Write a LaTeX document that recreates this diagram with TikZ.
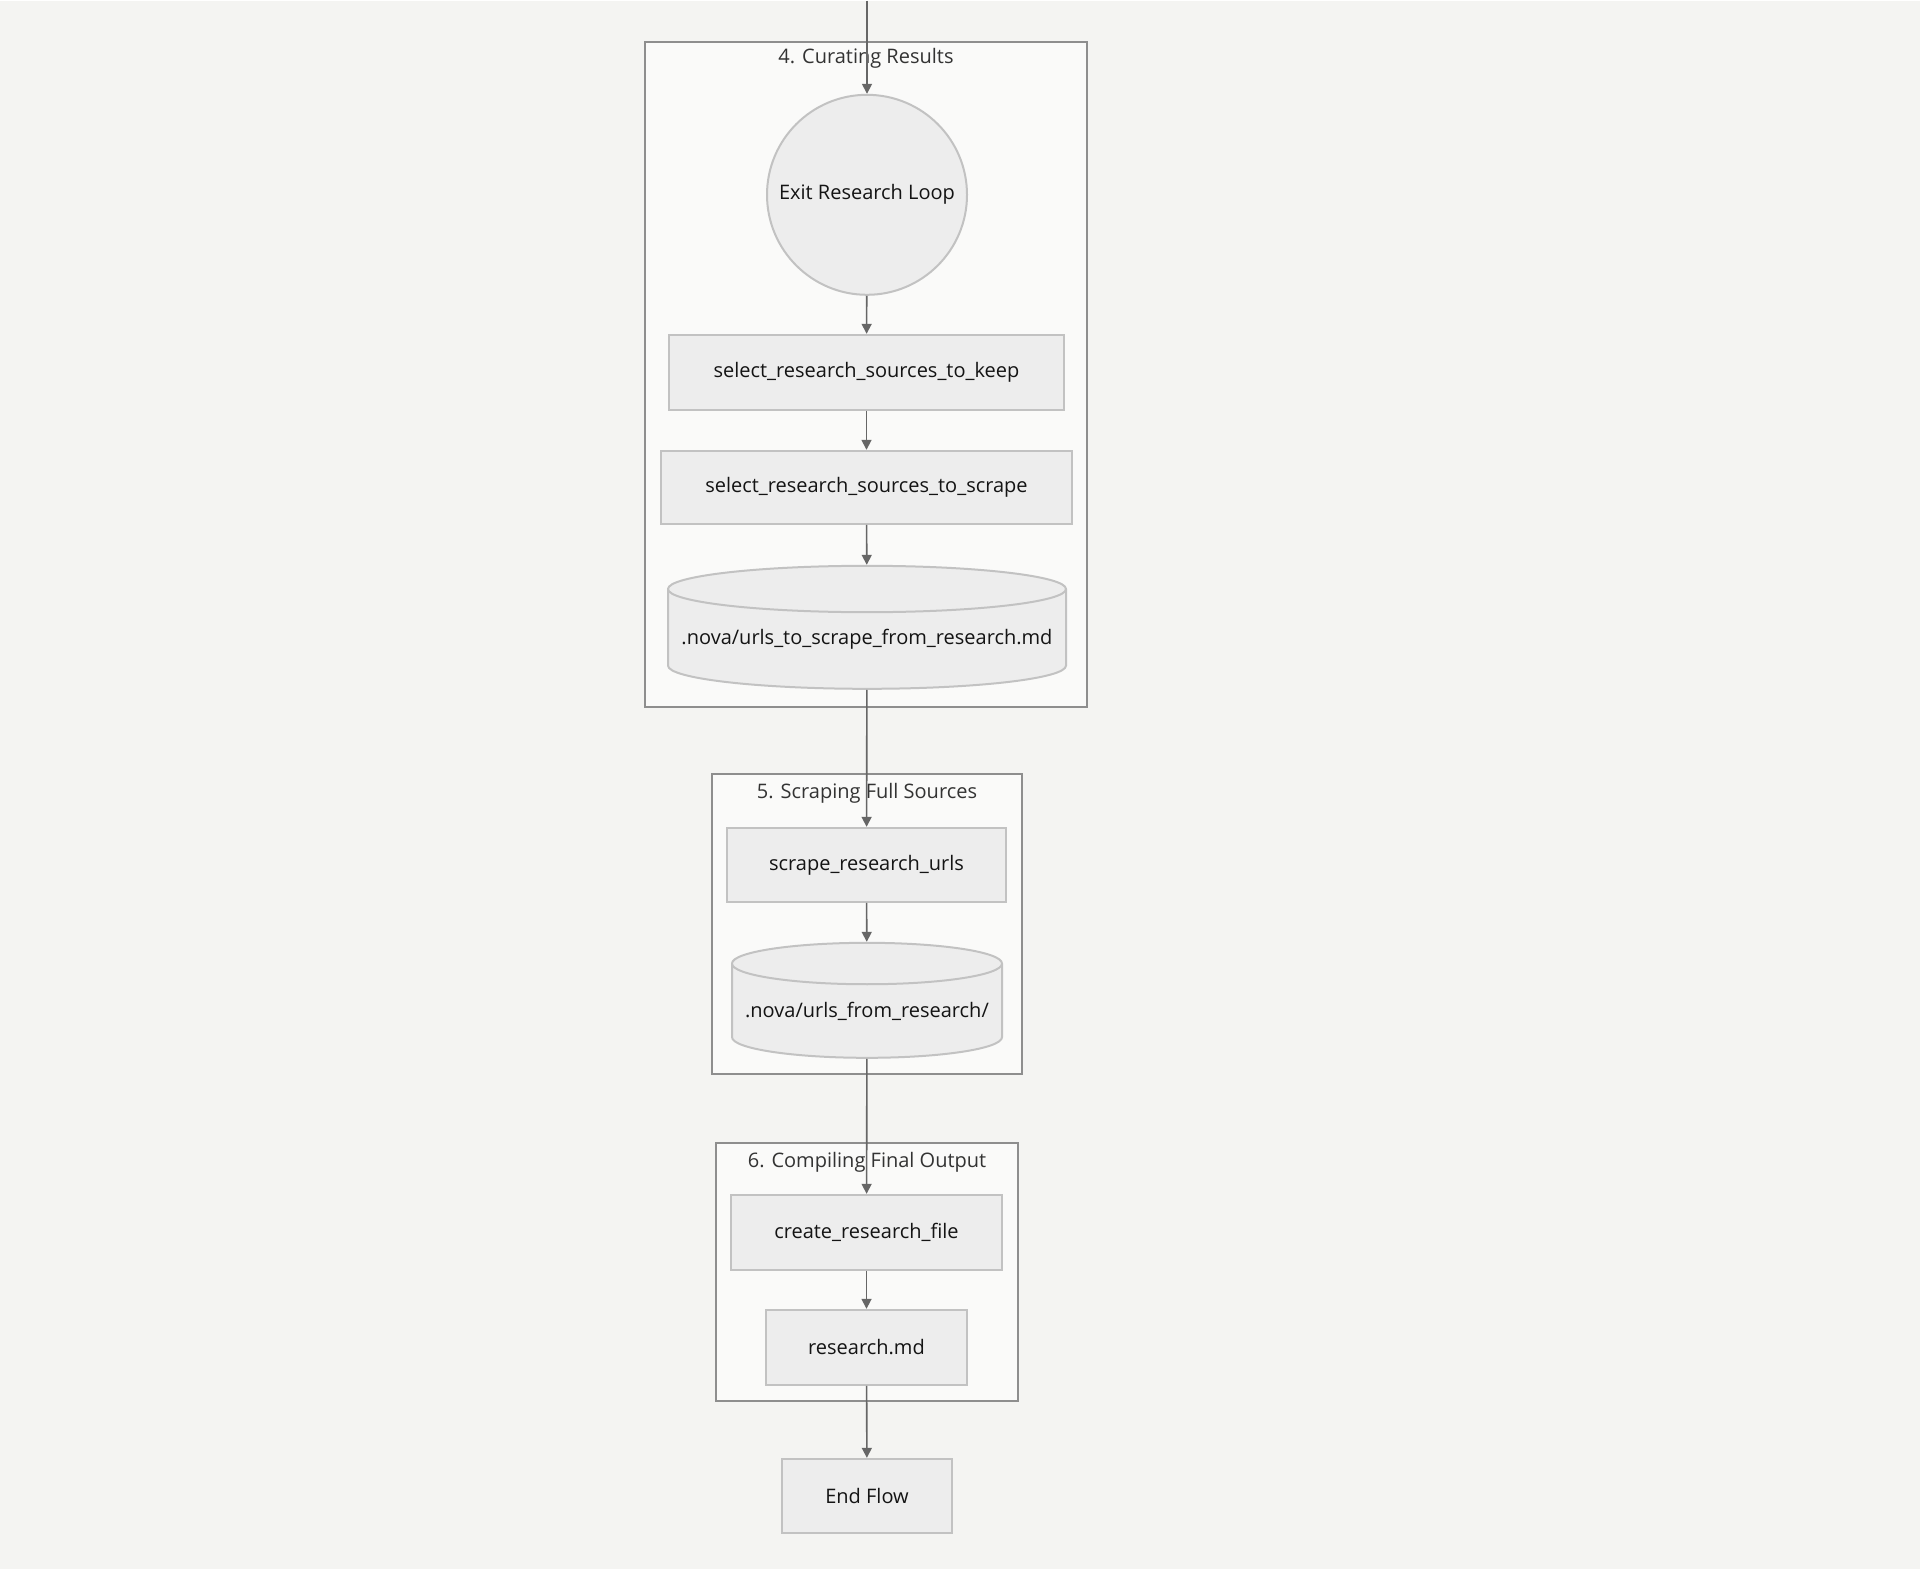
\documentclass[tikz,border=0pt]{standalone}
\usepackage{fontspec}
\setmainfont{Open Sans}
\usetikzlibrary{arrows.meta,shapes.geometric}
\definecolor{pagebg}{HTML}{F4F4F2}
\definecolor{groupbg}{HTML}{FAFAF9}
\definecolor{groupline}{HTML}{8E8E8E}
\definecolor{stepfill}{HTML}{EDEDED}
\definecolor{stepline}{HTML}{C2C2C2}
\definecolor{flowline}{HTML}{666666}

\begin{document}
\begin{tikzpicture}[x=0.5pt,y=-0.5pt,>={Triangle[length=5pt,width=5pt]},font=\fontsize{10}{12}\selectfont,
  group/.style={draw=groupline,fill=groupbg,line width=0.7pt},
  grouptitle/.style={text=black!80},
  stepbox/.style={draw=stepline,fill=stepfill,line width=1pt,inner sep=0pt,text=black!92},
  store/.style={cylinder,shape border rotate=90,anchor=shape center,draw=stepline,fill=stepfill,line width=1pt,inner sep=0pt,text=black!92},
  flow/.style={->,draw=flowline,fill=flowline,line width=0.8pt}]
\fill[pagebg] (0,0) rectangle (1920,1568);
% groups
\draw[group] (645,41) rectangle (1087,706);
\node[grouptitle] (t4) at (866,58) {4. Curating Results};
\draw[group] (712,773) rectangle (1022,1073);
\node[grouptitle] (t5) at (867,792) {5. Scraping Full Sources};
\draw[group] (716,1142) rectangle (1018,1400);
\node[grouptitle] (t6) at (867,1161) {6. Compiling Final Output};
% steps
\coordinate (enter) at (867,0);
\node[stepbox,circle,minimum size=100pt] (exitloop) at (867,194) {Exit Research Loop};
\node[stepbox,minimum width=197.5pt,minimum height=37.5pt] (keep) at (866.5,371.5) {select\_research\_sources\_to\_keep};
\node[stepbox,minimum width=205.5pt,minimum height=36.5pt] (toscrape) at (866.5,486.5) {select\_research\_sources\_to\_scrape};
\node[store,aspect=0.125,minimum width=199pt,minimum height=61.5pt] (urllist) at (867,626.5) {.nova/urls\_to\_scrape\_from\_research.md};
\node[stepbox,minimum width=139.5pt,minimum height=37pt] (scrapeurls) at (866.5,864) {scrape\_research\_urls};
\node[store,aspect=0.17,minimum width=135pt,minimum height=57.5pt] (urldir) at (867,999.5) {.nova/urls\_from\_research/};
\node[stepbox,minimum width=135.5pt,minimum height=37.5pt] (createfile) at (866.5,1231.5) {create\_research\_file};
\node[stepbox,minimum width=100.5pt,minimum height=37.5pt] (researchmd) at (866.5,1346.5) {research.md};
\node[stepbox,minimum width=85pt,minimum height=37pt] (endflow) at (867,1495) {End Flow};
% flow
\draw[flow] (enter) -- (exitloop);
\draw[flow] (exitloop) -- (keep);
\draw[flow] (keep) -- (toscrape);
\draw[flow] (toscrape) -- (urllist);
\draw[flow] (urllist) -- (scrapeurls);
\draw[flow] (scrapeurls) -- (urldir);
\draw[flow] (urldir) -- (createfile);
\draw[flow] (createfile) -- (researchmd);
\draw[flow] (researchmd) -- (endflow);
\end{tikzpicture}
\end{document}
